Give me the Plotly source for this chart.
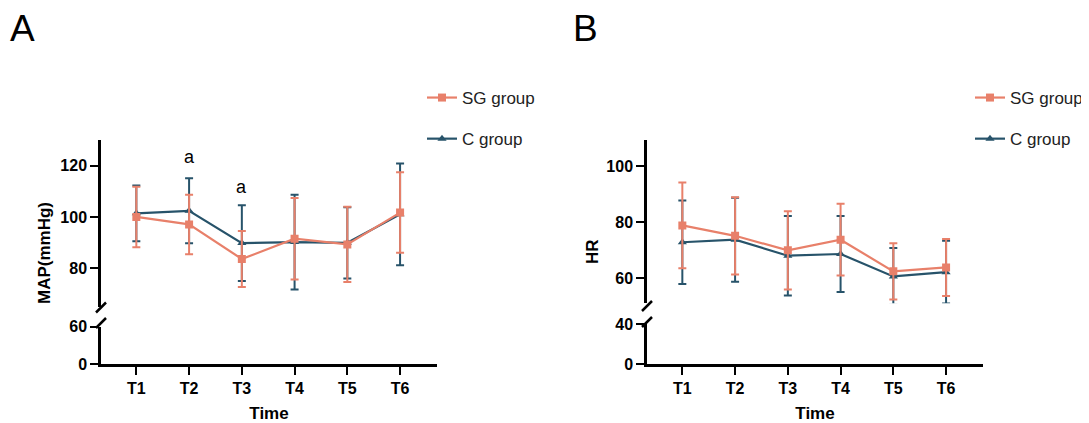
import plotly.graph_objects as go

W, H = 1089, 423
OFF = 8  # page body margin in the browser

times = ["T1", "T2", "T3", "T4", "T5", "T6"]

# MAP (mmHg)
map_sg_mean = [100.0, 97.1, 83.6, 91.5, 89.3, 101.7]
map_sg_sd = [11.8, 11.6, 10.9, 15.9, 14.7, 15.7]
map_c_mean = [101.4, 102.4, 89.8, 90.2, 89.9, 101.0]
map_c_sd = [10.9, 12.7, 14.8, 18.5, 13.9, 19.8]

# HR
hr_sg_mean = [78.8, 75.1, 69.9, 73.7, 62.4, 63.8]
hr_sg_sd = [15.3, 13.8, 14.0, 12.8, 10.0, 10.2]
hr_c_mean = [72.8, 73.7, 68.0, 68.6, 60.6, 62.1]
hr_c_sd = [14.9, 15.0, 14.2, 13.6, 10.1, 11.2]

# significance marks on MAP panel
sig_x = ["T2", "T3"]
sig_y = [123.4, 111.6]
sig_text = ["a", "a"]

SG_COLOR = "#E8806A"
C_COLOR = "#27536A"
FONT = "Liberation Sans, Arial, sans-serif"

xi = list(range(len(times)))


def px_x(p):
    return (p - OFF) / W


def px_y(p):
    return 1 - (p - OFF) / H


fig = go.Figure()


def add_pair(xref, yref, sg_m, sg_s, c_m, c_s, legend):
    fig.add_trace(go.Scatter(
        x=xi, y=c_m, name="C group", xaxis=xref, yaxis=yref,
        mode="lines+markers", legend=legend, legendgroup=legend + "c", legendrank=2,
        line=dict(color=C_COLOR, width=2.2),
        marker=dict(symbol="triangle-up", size=8, color=C_COLOR),
        error_y=dict(type="data", array=c_s, visible=True, color=C_COLOR, thickness=2, width=4),
    ))
    fig.add_trace(go.Scatter(
        x=xi, y=sg_m, name="SG group", xaxis=xref, yaxis=yref,
        mode="lines+markers", legend=legend, legendgroup=legend + "s", legendrank=1,
        line=dict(color=SG_COLOR, width=2.2),
        marker=dict(symbol="square", size=8, color=SG_COLOR),
        error_y=dict(type="data", array=sg_s, visible=True, color=SG_COLOR, thickness=2, width=4),
    ))


add_pair("x", "y2", map_sg_mean, map_sg_sd, map_c_mean, map_c_sd, "legend")
add_pair("x2", "y4", hr_sg_mean, hr_sg_sd, hr_c_mean, hr_c_sd, "legend2")

# empty traces so the lower (broken) axis segments are drawn
for xr, yr in [("x", "y"), ("x2", "y3")]:
    fig.add_trace(go.Scatter(x=[None], y=[None], xaxis=xr, yaxis=yr, mode="markers",
                             showlegend=False, hoverinfo="skip"))

axis_common = dict(
    showline=True, linecolor="black", linewidth=2.5, ticks="outside",
    ticklen=8, tickwidth=2, tickcolor="black", showgrid=False, zeroline=False,
    tickfont=dict(family=FONT, size=16, color="black", weight="bold"),
)

xcommon = dict(axis_common, range=[-0.67, 5.7], tickvals=xi, ticktext=times,
               title=dict(text="<b>Time</b>", font=dict(family=FONT, size=17, color="black"), standoff=11))

fig.update_layout(
    width=W, height=H, margin=dict(l=0, r=0, t=0, b=0, autoexpand=False),
    paper_bgcolor="white", plot_bgcolor="white",
    xaxis=dict(xcommon, domain=[px_x(101), px_x(437)], anchor="y"),
    yaxis=dict(axis_common, domain=[px_y(364.3), px_y(326.7)], range=[0, 60], tickvals=[0, 60], anchor="x"),
    yaxis2=dict(axis_common, domain=[px_y(306.7), px_y(140)], range=[65, 130], tickvals=[80, 100, 120], anchor="x"),
    xaxis2=dict(xcommon, domain=[px_x(647), px_x(983)], anchor="y3"),
    yaxis3=dict(axis_common, domain=[px_y(364.3), px_y(324)], range=[0, 40], tickvals=[0, 40], anchor="x2"),
    yaxis4=dict(axis_common, domain=[px_y(303.3), px_y(140)], range=[51, 109.3], tickvals=[60, 80, 100], anchor="x2"),
    legend=dict(x=px_x(422), y=px_y(80), xanchor="left", yanchor="top", tracegroupgap=16,
                font=dict(family=FONT, size=17, color="#222"), bgcolor="rgba(0,0,0,0)", itemwidth=30),
    legend2=dict(x=px_x(970), y=px_y(80), xanchor="left", yanchor="top", tracegroupgap=16,
                 font=dict(family=FONT, size=17, color="#222"), bgcolor="rgba(0,0,0,0)", itemwidth=30),
    showlegend=True,
)

annotations = []
for sx, sy, st in zip(sig_x, sig_y, sig_text):
    annotations.append(dict(x=times.index(sx), y=sy, xref="x", yref="y2", text=st, showarrow=False,
                            xanchor="center", yanchor="middle",
                            font=dict(family=FONT, size=18, color="black")))

center = dict(xanchor="center", yanchor="middle", showarrow=False, xref="paper", yref="paper")
annotations += [
    dict(center, x=px_x(45), y=px_y(253), text="<b>MAP(mmHg)</b>", textangle=-90,
         font=dict(family=FONT, size=17, color="black")),
    dict(center, x=px_x(592), y=px_y(252), text="<b>HR</b>", textangle=-90,
         font=dict(family=FONT, size=17, color="black")),
    dict(center, x=px_x(22.5), y=px_y(29), text="A", font=dict(family=FONT, size=37, color="black")),
    dict(center, x=px_x(585.5), y=px_y(29), text="B", font=dict(family=FONT, size=37, color="black")),
]
fig.update_layout(annotations=annotations)

# axis break marks
shapes = []
for ax_x, ys in [(101, (307.5, 323.0)), (647, (306.0, 322.0))]:
    for yc in ys:
        shapes.append(dict(type="line", xref="paper", yref="paper",
                           x0=px_x(ax_x - 5), y0=px_y(yc + 5), x1=px_x(ax_x + 5), y1=px_y(yc - 5),
                           line=dict(color="black", width=2.5)))
fig.update_layout(shapes=shapes)

fig.write_html("out.html")
